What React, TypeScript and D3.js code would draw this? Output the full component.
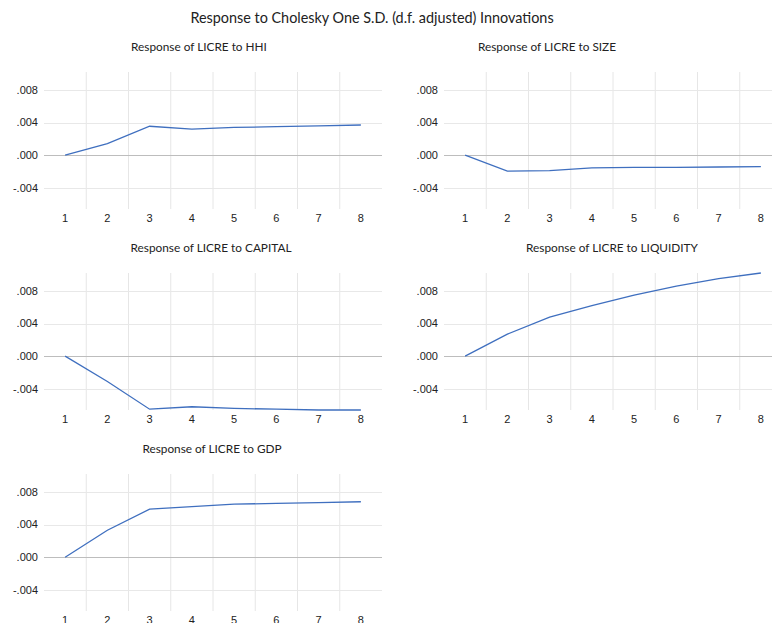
import * as d3 from "d3";
import { useEffect, useRef } from "react";

const periods = [1, 2, 3, 4, 5, 6, 7, 8];
const yTicks = [-0.004, 0, 0.004, 0.008];

const shockNames = ["HHI", "SIZE", "CAPITAL", "LIQUIDITY", "GDP"];
const hhi = [0, 0.00143, 0.00355, 0.0032, 0.0034, 0.0035, 0.0036, 0.0037];
const size = [0, -0.00196, -0.0019, -0.00155, -0.0015, -0.0015, -0.00145, -0.0014];
const capital = [0, -0.0031, -0.0065, -0.0062, -0.0064, -0.0065, -0.0066, -0.0066];
const liquidity = [0, 0.0027, 0.0048, 0.0062, 0.0075, 0.0086, 0.0095, 0.0102];
const gdp = [0, 0.0033, 0.0059, 0.0062, 0.0065, 0.0066, 0.0067, 0.0068];

const seriesList = [hhi, size, capital, liquidity, gdp];

const App = () => {
  const ref = useRef<SVGSVGElement>(null);

  useEffect(() => {
    const svg = d3.select(ref.current);
    svg.selectAll("*").remove();

    const width = 772;
    const height = 623;
    svg.attr("width", width).attr("height", height);

    const titleFont = "Lato, 'Open Sans', sans-serif";
    const tickFont = "'Liberation Sans', Arial, sans-serif";

    svg
      .append("text")
      .attr("x", 372)
      .attr("y", 23)
      .attr("text-anchor", "middle")
      .style("font-family", titleFont)
      .style("font-size", "14.4px")
      .attr("fill", "#222")
      .text("Response to Cholesky One S.D. (d.f. adjusted) Innovations");

    const plotW = 338;
    const plotH = 137;
    // panel positions (left of plot, top of plot) and where the title sits
    const lefts = [44, 444, 44, 444, 44];
    const tops = [72, 72, 273, 273, 474];
    const titleX = [199, 547, 211, 612, 212];

    const x = d3.scaleBand<number>().domain(periods).range([0, plotW]).padding(0);
    const y = d3.scaleLinear().domain([-0.0066, 0.0102]).range([plotH, 0]);

    seriesList.forEach((values, i) => {
      const g = svg
        .append("g")
        .attr("transform", `translate(${lefts[i]}, ${tops[i]})`);

      svg
        .append("text")
        .attr("x", titleX[i])
        .attr("y", tops[i] - 21)
        .attr("text-anchor", "middle")
        .style("font-family", titleFont)
        .style("font-size", "11.8px")
        .attr("fill", "#222")
        .text(`Response of LICRE to ${shockNames[i]}`);

      // vertical grid between periods
      g.selectAll("line.vgrid")
        .data(periods.slice(1))
        .join("line")
        .attr("class", "vgrid")
        .attr("x1", (d) => x(d)!)
        .attr("x2", (d) => x(d)!)
        .attr("y1", 0)
        .attr("y2", plotH)
        .attr("stroke", "#e6e6e6")
        .attr("stroke-width", 1);

      // horizontal grid
      g.selectAll("line.hgrid")
        .data(yTicks)
        .join("line")
        .attr("class", "hgrid")
        .attr("x1", 0)
        .attr("x2", plotW)
        .attr("y1", (d) => Math.round(y(d)) + 0.5)
        .attr("y2", (d) => Math.round(y(d)) + 0.5)
        .attr("stroke", (d) => (d === 0 ? "#bdbdbd" : "#e8e8e8"))
        .attr("stroke-width", 1);

      g.selectAll("text.ytick")
        .data(yTicks)
        .join("text")
        .attr("class", "ytick")
        .attr("x", -6)
        .attr("y", (d) => y(d))
        .attr("dy", "0.35em")
        .attr("text-anchor", "end")
        .style("font-family", tickFont)
        .style("font-size", "11px")
        .attr("fill", "#222")
        .text((d) => (d === 0 ? ".000" : d < 0 ? "-" + d3.format(".3f")(-d).slice(1) : d3.format(".3f")(d).slice(1)));

      g.selectAll("text.xtick")
        .data(periods)
        .join("text")
        .attr("class", "xtick")
        .attr("x", (d) => x(d)! + x.bandwidth() / 2)
        .attr("y", plotH + 9)
        .attr("dy", "0.35em")
        .attr("text-anchor", "middle")
        .style("font-family", tickFont)
        .style("font-size", "11px")
        .attr("fill", "#222")
        .text((d) => d);

      const line = d3
        .line<number>()
        .x((_, j) => x(periods[j])! + x.bandwidth() / 2)
        .y((d) => y(d));

      g.append("path")
        .datum(values)
        .attr("d", line)
        .attr("fill", "none")
        .attr("stroke", "#3f6fbf")
        .attr("stroke-width", 1.3);
    });
  }, []);

  return <svg ref={ref} style={{ position: "absolute", left: 0, top: 0 }}></svg>;
};

export default App;
